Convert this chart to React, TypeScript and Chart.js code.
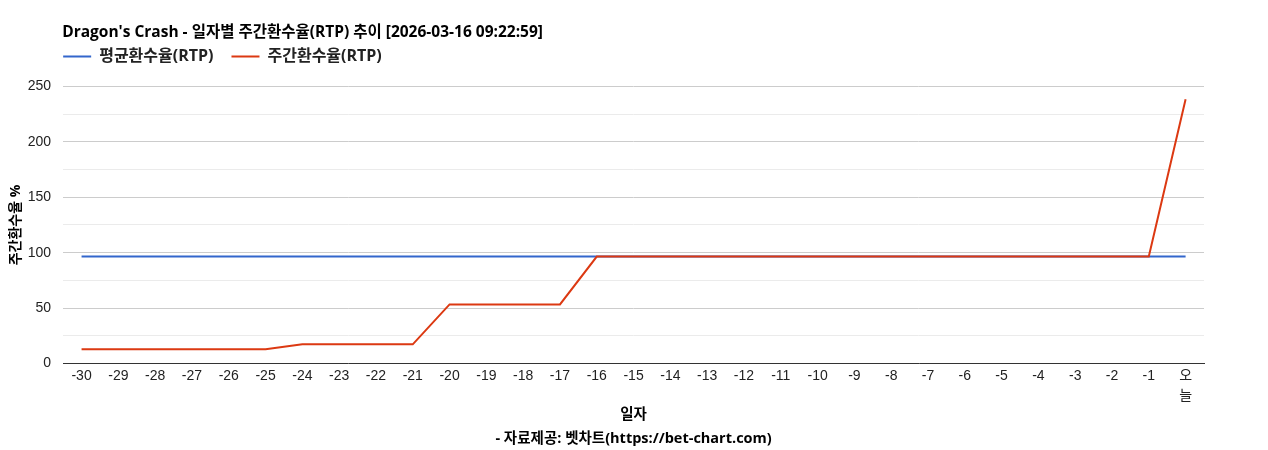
import React, { useEffect, useRef } from "react";
import { Chart, registerables } from "chart.js";

Chart.register(...registerables);

const dayLabels: (string | string[])[] = [
  "-30", "-29", "-28", "-27", "-26", "-25", "-24", "-23", "-22", "-21",
  "-20", "-19", "-18", "-17", "-16", "-15", "-14", "-13", "-12", "-11",
  "-10", "-9", "-8", "-7", "-6", "-5", "-4", "-3", "-2", "-1", ["오", "늘"],
];

const avgRtp = [
  96.5, 96.5, 96.5, 96.5, 96.5, 96.5, 96.5, 96.5, 96.5, 96.5,
  96.5, 96.5, 96.5, 96.5, 96.5, 96.5, 96.5, 96.5, 96.5, 96.5,
  96.5, 96.5, 96.5, 96.5, 96.5, 96.5, 96.5, 96.5, 96.5, 96.5, 96.5,
];

const weeklyRtp = [
  12.8, 12.8, 12.8, 12.8, 12.8, 12.8, 17.2, 17.2, 17.2, 17.2,
  53.3, 53.3, 53.3, 53.3, 96.5, 96.5, 96.5, 96.5, 96.5, 96.5,
  96.5, 96.5, 96.5, 96.5, 96.5, 96.5, 96.5, 96.5, 96.5, 96.5, 238.5,
];

const TICK_FONT = "Arial, 'Liberation Sans', 'Noto Sans CJK KR', sans-serif";
const LABEL_FONT = "'Open Sans', 'Noto Sans CJK KR', sans-serif";

const App: React.FC = () => {
  const chartRef = useRef<HTMLCanvasElement | null>(null);

  useEffect(() => {
    if (!chartRef.current) return;
    const ctx = chartRef.current.getContext("2d");
    if (!ctx) return;

    const chart = new Chart(ctx, {
      type: "line",
      data: {
        labels: dayLabels,
        datasets: [
          {
            label: "평균환수율(RTP)",
            data: avgRtp,
            borderColor: "#3366cc",
            backgroundColor: "#3366cc",
            borderWidth: 2,
            pointRadius: 0,
            fill: false,
            order: 1,
          },
          {
            label: "주간환수율(RTP)",
            data: weeklyRtp,
            borderColor: "#dc3912",
            backgroundColor: "#dc3912",
            borderWidth: 2,
            pointRadius: 0,
            fill: false,
            order: 0,
          },
        ],
      },
      options: {
        animation: false,
        responsive: true,
        maintainAspectRatio: false,
        layout: { padding: { left: 4, right: 64, top: 23, bottom: 0 } },
        plugins: {
          title: {
            display: true,
            text: "Dragon's Crash - 일자별 주간환수율(RTP) 추이 [2026-03-16 09:22:59]",
            align: "start",
            fullSize: false,
            color: "#000",
            font: { family: LABEL_FONT, size: 15.5, weight: "bold", lineHeight: 1.2 },
            padding: { top: 0, bottom: 2 },
          },
          legend: {
            display: true,
            align: "start",
            fullSize: false,
            labels: {
              usePointStyle: true,
              pointStyle: "line",
              pointStyleWidth: 28,
              color: "#222",
              font: { family: LABEL_FONT, size: 16, weight: "bold" },
              padding: 18,
              boxHeight: 2,
              sort: (a: any, b: any) => a.datasetIndex - b.datasetIndex,
            },
          },
          tooltip: { enabled: false },
        },
        scales: {
          x: {
            offset: true,
            grid: { display: false, drawTicks: false },
            border: { display: true, color: "#333", width: 1 },
            ticks: {
              color: "#222",
              font: { family: TICK_FONT, size: 14, lineHeight: 1.4 },
              padding: 3,
              maxRotation: 0,
              autoSkip: false,
            },
            title: {
              display: true,
              text: ["일자", "- 자료제공: 벳차트(https://bet-chart.com)"],
              color: "#000",
              font: { family: LABEL_FONT, size: 14.5, weight: "bold", lineHeight: 1.6 },
              padding: { top: -5, bottom: 0 },
            },
          },
          y: {
            min: 0,
            max: 250,
            border: { display: false },
            grid: {
              drawTicks: false,
              color: (c: any) => (c.tick && c.tick.value % 50 === 0 ? "#cccccc" : "#ebebeb"),
            },
            ticks: {
              stepSize: 25,
              color: "#222",
              font: { family: TICK_FONT, size: 14 },
              padding: 12,
              callback: (v: any) => (Number(v) % 50 === 0 ? String(v) : ""),
            },
            title: {
              display: true,
              text: "주간환수율 %",
              color: "#000",
              font: { family: LABEL_FONT, size: 14, weight: "bold" },
              padding: { top: 4, bottom: -9 },
            },
          },
        },
      },
      plugins: [
        {
          id: "legendPlacement",
          beforeInit(c: any) {
            const orig = c.legend.fit;
            c.legend.fit = function () {
              orig.bind(c.legend)();
              this.height -= 1;
            };
          },
          afterLayout(c: any) {
            const lg = c.legend;
            lg.top -= 13;
            lg.bottom -= 13;
            lg.left -= 18;
            lg.right -= 18;
            const t = c.titleBlock;
            if (t) {
              t.left -= 1;
              t.right -= 1;
            }
          },
        },
      ],
    });

    return () => {
      chart.destroy();
    };
  }, []);

  return (
    <div style={{ position: "fixed", left: 0, top: 0, width: 1268, height: 450, background: "#fff" }}>
      <canvas ref={chartRef} />
    </div>
  );
};

export default App;
